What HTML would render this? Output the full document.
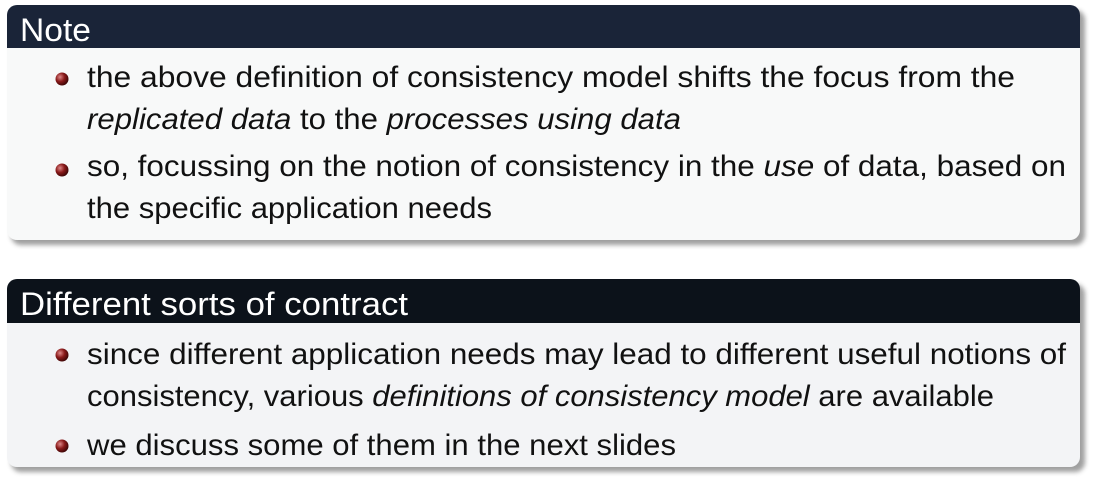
<!DOCTYPE html>
<html><head><meta charset="utf-8"><style>html,body{margin:0;padding:0;background:#fff;width:1093px;height:488px;overflow:hidden}svg{display:block}</style></head>
<body>
<svg width="1093" height="488" viewBox="0 0 1093 488" xmlns="http://www.w3.org/2000/svg" font-family="Liberation Sans, DejaVu Sans, sans-serif">
<defs>
<radialGradient id="b" cx="0.35" cy="0.35" r="0.7"><stop offset="0" stop-color="#d88"/><stop offset="0.5" stop-color="#8a1a1a"/><stop offset="1" stop-color="#3a0505"/></radialGradient>
<filter id="s" x="-2%" y="-3%" width="104%" height="106%"><feGaussianBlur stdDeviation="2.5"/></filter>
<clipPath id="c"><rect x="0" y="0" width="1093" height="488"/></clipPath>
</defs>
<g clip-path="url(#c)">
<rect x="11" y="10" width="1074" height="235" rx="10" fill="#777" filter="url(#s)" opacity="0.7"/>
<rect x="7" y="5" width="1073" height="235" rx="10" fill="#f8f9f9"/>
<path d="M7 48 V15 a10 10 0 0 1 10 -10 H1070 a10 10 0 0 1 10 10 V48 Z" fill="#1a2438"/>
<text x="20" y="41" font-size="32" fill="#fff" textLength="71" lengthAdjust="spacingAndGlyphs">Note</text>
<g font-size="30" fill="#111">
<circle cx="62" cy="79" r="6.5" fill="url(#b)"/>
<text x="87" y="87" textLength="928" lengthAdjust="spacingAndGlyphs">the above definition of consistency model shifts the focus from the</text>
<text x="87" y="129" textLength="594" lengthAdjust="spacingAndGlyphs"><tspan font-style="italic">replicated data</tspan> to the <tspan font-style="italic">processes using data</tspan></text>
<circle cx="62" cy="170" r="6.5" fill="url(#b)"/>
<text x="87" y="176" textLength="979" lengthAdjust="spacingAndGlyphs">so, focussing on the notion of consistency in the <tspan font-style="italic">use</tspan> of data, based on</text>
<text x="87" y="218" textLength="405" lengthAdjust="spacingAndGlyphs">the specific application needs</text>
</g>
<rect x="11" y="284" width="1074" height="188" rx="10" fill="#777" filter="url(#s)" opacity="0.7"/>
<rect x="7" y="279" width="1073" height="188" rx="10" fill="#f3f4f6"/>
<path d="M7 323 V289 a10 10 0 0 1 10 -10 H1070 a10 10 0 0 1 10 10 V323 Z" fill="#0c121a"/>
<text x="20" y="315" font-size="32" fill="#fff" textLength="388" lengthAdjust="spacingAndGlyphs">Different sorts of contract</text>
<g font-size="30" fill="#111">
<circle cx="62" cy="355" r="6.5" fill="url(#b)"/>
<text x="87" y="364" textLength="979" lengthAdjust="spacingAndGlyphs">since different application needs may lead to different useful notions of</text>
<text x="87" y="406" textLength="907" lengthAdjust="spacingAndGlyphs">consistency, various <tspan font-style="italic">definitions of consistency model</tspan> are available</text>
<circle cx="62" cy="446" r="6.5" fill="url(#b)"/>
<text x="87" y="455" textLength="589" lengthAdjust="spacingAndGlyphs">we discuss some of them in the next slides</text>
</g>
</g>
</svg>
</body></html>
